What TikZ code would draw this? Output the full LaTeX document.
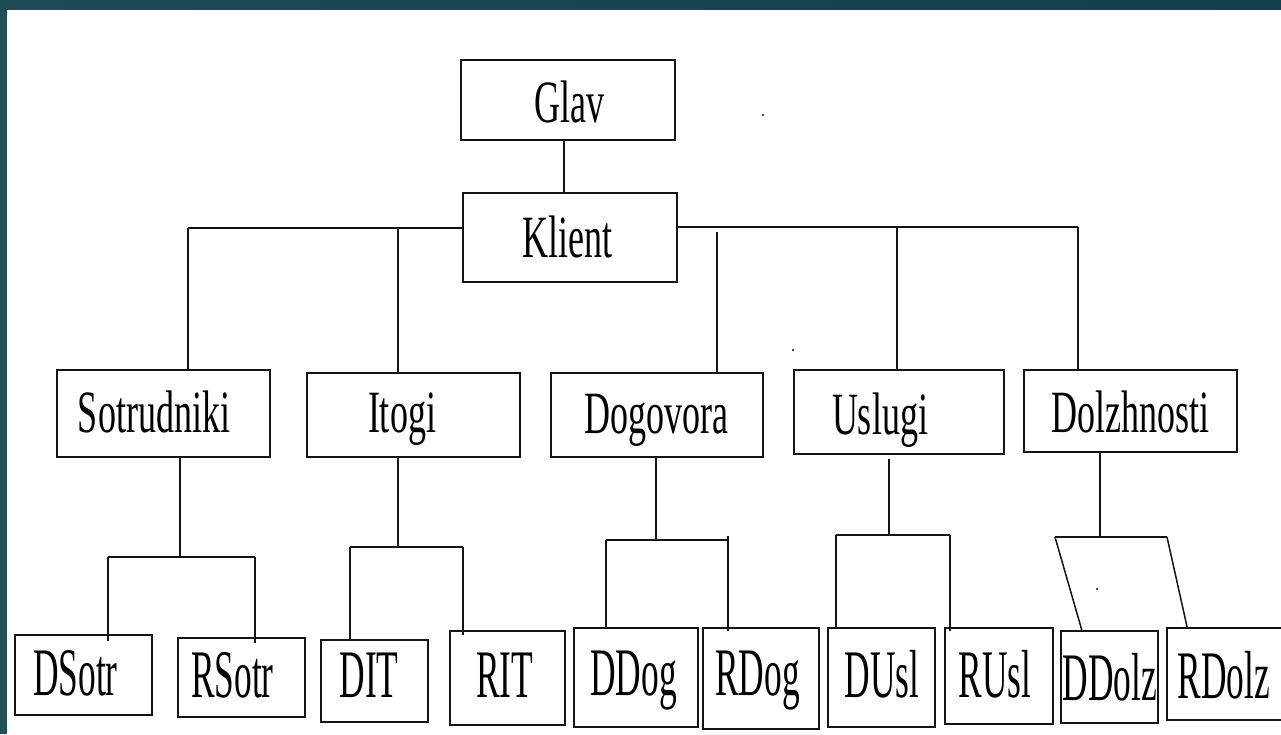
\documentclass[tikz,border=0pt]{standalone}
\usepackage{fontspec}
\newfontfamily\midfont[FakeStretch=0.6]{Liberation Serif}
\newfontfamily\leaffont[FakeStretch=0.52]{Liberation Serif}
\usetikzlibrary{calc}
\definecolor{frameL}{RGB}{31,80,88}
\definecolor{frameA}{RGB}{30,74,86}
\definecolor{frameB}{RGB}{46,100,100}
\definecolor{frameC}{RGB}{20,64,76}
\definecolor{ink}{RGB}{20,20,20}
\begin{document}
\begin{tikzpicture}[x=1pt,y=-1pt,
  box/.style 2 args={draw=ink, line width=2.2pt, inner sep=0pt, minimum width=#1, minimum height=#2},
  conn/.style={draw=ink, line width=1.9pt},
  midtext/.style={anchor=base, inner sep=0pt, text=black, font=\midfont\fontsize{60}{60}\selectfont},
  leaftext/.style={anchor=base, inner sep=0pt, text=black, font=\leaffont\fontsize{68}{68}\selectfont},
  dotmark/.style={fill=ink}]
\clip (0,0) rectangle (1281,734);
\fill[frameL] (0,0) rectangle (1281,734);
\shade[left color=frameA, middle color=frameB, right color=frameC] (0,0) rectangle (1281,10);
\fill[white] (7,10) rectangle (1281,734);

% level 0/1 boxes
\node[box={214pt}{80pt}] (glav) at (568,100) {};
\node[box={214pt}{89pt}] (klient) at (570,237.5) {};
% level 2 boxes
\node[box={213pt}{87pt}] (sotr) at (163.5,413.5) {};
\node[box={213pt}{84pt}] (itogi) at (413.5,415) {};
\node[box={212pt}{84pt}] (dog) at (657,415) {};
\node[box={210pt}{84pt}] (usl) at (899,412) {};
\node[box={213pt}{82pt}] (dolz) at (1130.5,411) {};
% level 3 boxes
\node[box={137pt}{80pt}] (dsotr) at (83.5,675) {};
\node[box={127pt}{79pt}] (rsotr) at (241.5,677.5) {};
\node[box={107pt}{82pt}] (dit) at (374.5,681) {};
\node[box={115pt}{94pt}] (rit) at (507.5,678) {};
\node[box={124pt}{99pt}] (ddog) at (636,677.5) {};
\node[box={116pt}{101pt}] (rdog) at (761,678.5) {};
\node[box={107pt}{99pt}] (dusl) at (881.5,677.5) {};
\node[box={108pt}{96pt}] (rusl) at (999,676) {};
\node[box={97pt}{92pt}] (ddolz) at (1109.5,677) {};
\node[box={130pt}{92pt}] (rdolz) at (1232,674) {};

% texts
\node[midtext] (tglav) at (569,122) {Glav};
\node[midtext] (tklient) at (567,257) {Klient};
\node[midtext] (tsotr) at (154,432) {Sotrudniki};
\node[midtext] (titogi) at (402,432) {Itogi};
\node[midtext] (tdog) at (656.5,433) {Dogovora};
\node[midtext] (tusl) at (880,434) {Uslugi};
\node[midtext] (tdolz) at (1130,432) {Dolzhnosti};
\node[leaftext] (tdsotr) at (75.5,695) {DSotr};
\node[leaftext] (trsotr) at (232.5,697) {RSotr};
\node[leaftext] (tdit) at (369,697) {DIT};
\node[leaftext] (trit) at (504.5,697) {RIT};
\node[leaftext] (tddog) at (633.5,695) {DDog};
\node[leaftext] (trdog) at (757.5,695) {RDog};
\node[leaftext] (tdusl) at (882,697) {DUsl};
\node[leaftext] (trusl) at (995,697) {RUsl};
\node[leaftext] (tddolz) at (1110,700) {DDolz};
\node[leaftext] (trdolz) at (1224,698) {RDolz};

% top connectors
\coordinate (g1) at (564,140);
\draw[conn] (g1 |- glav.south) -- (g1 |- klient.north);
\coordinate (jL) at (188,228);
\coordinate (jR) at (1078,227);
\coordinate (jI) at (398,228);
\coordinate (jD) at (717,232);
\coordinate (jU) at (897,227);
\draw[conn] (jL) -- (klient.west |- jL);
\draw[conn] (klient.east |- jR) -- (jR);
\draw[conn] (jL) -- (jL |- sotr.north);
\draw[conn] (jI) -- (jI |- itogi.north);
\draw[conn] (jD) -- (jD |- dog.north);
\draw[conn] (jU) -- (jU |- usl.north);
\draw[conn] (jR) -- (jR |- dolz.north);

% Sotrudniki branch
\coordinate (s1) at (180,557);
\coordinate (sa) at (108,557);
\coordinate (sb) at (255,557);
\draw[conn] (s1 |- sotr.south) -- (s1);
\draw[conn] (sa) -- (sb);
\draw[conn, shorten >=-7pt] (sa) -- (sa |- dsotr.north);
\draw[conn, shorten >=-6pt] (sb) -- (sb |- rsotr.north);

% Itogi branch
\coordinate (i1) at (398,547);
\coordinate (ia) at (350,547);
\coordinate (ib) at (463,547);
\draw[conn] (i1 |- itogi.south) -- (i1);
\draw[conn] (ia) -- (ib);
\draw[conn] (ia) -- (ia |- dit.north);
\draw[conn, shorten >=-5pt] (ib) -- (ib |- rit.north);

% Dogovora branch
\coordinate (d1) at (656,540);
\coordinate (da) at (606,540);
\coordinate (db) at (728,540);
\draw[conn] (d1 |- dog.south) -- (d1);
\draw[conn] (da) -- (db);
\draw[conn] (da) -- (da |- ddog.north);
\draw[conn, shorten >=-4pt] ([yshift=4pt]db) -- (db |- rdog.north);

% Uslugi branch
\coordinate (u1) at (889,535);
\coordinate (ua) at (836,535);
\coordinate (ub) at (950,535);
\draw[conn] ([yshift=-4pt]u1 |- usl.south) -- (u1);
\draw[conn] (ua) -- (ub);
\draw[conn] (ua) -- (ua |- dusl.north);
\draw[conn, shorten >=-4pt] (ub) -- (ub |- rusl.north);

% Dolzhnosti branch
\coordinate (o1) at (1100,537);
\coordinate (oa) at (1055,537);
\coordinate (ob) at (1167,537);
\draw[conn] (o1 |- dolz.south) -- (o1);
\draw[conn] (oa) -- (ob);
\draw[conn, line width=1.5pt] (oa) -- ($(ddolz.north west)!0.22!(ddolz.north east)$);
\draw[conn, line width=1.5pt] (ob) -- ($(rdolz.north west)!0.16!(rdolz.north east)$);

% stray marks
\fill[dotmark] (763,115) circle (1.2);
\fill[dotmark] (793,350) circle (1.2);
\fill[dotmark] (1097,589) circle (1.2);
\end{tikzpicture}
\end{document}
